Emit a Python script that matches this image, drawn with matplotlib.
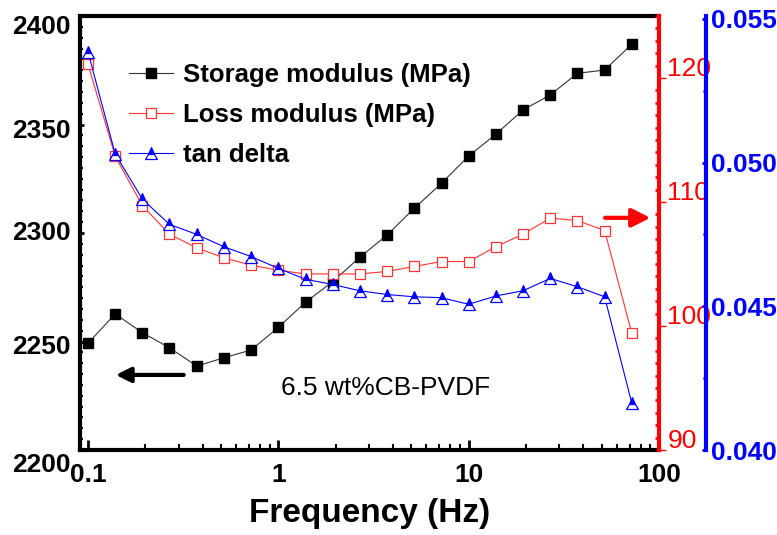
import numpy as np
import matplotlib.pyplot as plt
import matplotlib.transforms as mtransforms
from matplotlib.ticker import FixedLocator, MultipleLocator, LogLocator, NullFormatter, FormatStrFormatter

plt.rcParams['font.family'] = ['Liberation Sans', 'DejaVu Sans']

# frequency sweep (Hz)
freq = [0.1, 0.139, 0.193, 0.268, 0.373, 0.518, 0.72, 1.0, 1.39, 1.93, 2.68,
        3.73, 5.18, 7.2, 10.0, 13.9, 19.3, 26.8, 37.3, 51.8, 72.0]
# storage modulus (MPa), left axis
storage = [2249.2, 2262.7, 2254.1, 2247.1, 2238.7, 2242.5, 2246.1, 2256.5, 2268.1, 2277.6, 2288.8,
           2299.1, 2311.4, 2322.9, 2335.5, 2345.5, 2356.7, 2363.6, 2373.6, 2375.1, 2387.0]
# loss modulus (MPa), red axis
loss = [121.1, 113.7, 109.7, 107.4, 106.3, 105.5, 104.9, 104.5, 104.2, 104.2, 104.2,
        104.4, 104.8, 105.2, 105.2, 106.4, 107.4, 108.7, 108.5, 107.7, 99.4]
# tan delta, blue axis
tan_delta = [0.05385, 0.05030, 0.04873, 0.04785, 0.04750, 0.04707, 0.04673, 0.04632, 0.04594, 0.04576, 0.04554,
             0.04541, 0.04533, 0.04530, 0.04507, 0.04536, 0.04554, 0.04597, 0.04568, 0.04533, 0.04162]

fig = plt.figure(figsize=(7.77, 5.35), dpi=100)
ax = fig.add_axes([80 / 777, 85 / 535, 579 / 777, 434 / 535])


def shift(text, dy_px):
    # move a tick label up (+) or down (-) by some pixels
    off = mtransforms.ScaledTranslation(0, dy_px / 100, fig.dpi_scale_trans)
    text.set_transform(text.get_transform() + off)


l1, = ax.plot(freq, storage, color='#333333', lw=0.8, marker='s', ms=6.5,
              mfc='black', mec='black', label='Storage modulus (MPa)')
ax.set_xscale('log')
ax.set_xlim(0.0908, 100)
ax.set_ylim(2200, 2400)
ax.yaxis.set_major_locator(FixedLocator([2200, 2250, 2300, 2350, 2400]))
ax.yaxis.set_minor_locator(MultipleLocator(5))
ax.xaxis.set_major_locator(FixedLocator([0.1, 1, 10, 100]))
ax.xaxis.set_minor_locator(LogLocator(base=10, subs=np.arange(2, 10)))
ax.xaxis.set_minor_formatter(NullFormatter())
ax.set_xticklabels(['0.1', '1', '10', '100'])
for s in ['left', 'bottom', 'top']:
    ax.spines[s].set_linewidth(3)
ax.spines['right'].set_visible(False)
ax.tick_params(axis='x', which='major', direction='in', length=7, width=2, pad=9,
               labelsize=19)
ax.tick_params(axis='x', which='minor', direction='in', length=4, width=1.5)
ax.tick_params(axis='y', which='major', direction='in', length=3, width=2, pad=7,
               labelsize=19)
ax.tick_params(axis='y', which='minor', direction='in', length=2.5, width=1.5)
for t in ax.get_xticklabels() + ax.get_yticklabels():
    t.set_fontweight('bold')
for tick, dy in zip(ax.yaxis.get_major_ticks(), [-12, -3.5, 2, -3.5, -8]):
    shift(tick.label1, dy)
ax.set_xlabel('Frequency (Hz)', fontsize=24, fontweight='bold', labelpad=8)

# loss modulus axis
ax2 = ax.twinx()
l2, = ax2.plot(freq, loss, color='#ff3333', lw=0.8, marker='s', ms=6.5,
               mfc='white', mec='#ff3333', mew=0.9, label='Loss modulus (MPa)')
ax2.set_ylim(90, 125)
ax2.yaxis.set_major_locator(FixedLocator([90, 100, 110, 120]))
ax2.yaxis.set_minor_locator(MultipleLocator(1))
for s in ['left', 'bottom', 'top']:
    ax2.spines[s].set_visible(False)
ax2.spines['right'].set_color('red')
ax2.spines['right'].set_linewidth(3)
ax2.tick_params(axis='y', which='major', direction='out', length=5, width=1,
                color='red', labelcolor='red', labelsize=19, pad=1)
ax2.tick_params(axis='y', which='minor', direction='in', length=3, width=2, color='red')
for tick in ax2.yaxis.get_major_ticks():
    shift(tick.label2, 11)

# tan delta axis
ax3 = ax.twinx()
l3, = ax3.plot(freq, tan_delta, color='blue', lw=0.8, marker='^', ms=8,
               mfc='blue', mfcalt='white', fillstyle='top', mec='blue', mew=0.9,
               label='tan delta')
ax3.set_ylim(0.040, 0.0551)
ax3.spines['right'].set_position(('axes', 1.081))
for s in ['left', 'bottom', 'top']:
    ax3.spines[s].set_visible(False)
ax3.spines['right'].set_color('blue')
ax3.spines['right'].set_linewidth(3)
ax3.yaxis.set_major_locator(FixedLocator([0.040, 0.045, 0.050, 0.055]))
ax3.yaxis.set_minor_locator(FixedLocator([0.0425, 0.0475, 0.0525]))
ax3.yaxis.set_major_formatter(FormatStrFormatter('%.3f'))
ax3.tick_params(axis='y', which='major', direction='in', length=3, width=2,
                color='blue', labelcolor='blue', labelsize=19, pad=4)
ax3.tick_params(axis='y', which='minor', direction='in', length=2, width=2, color='blue')
for t in ax3.get_yticklabels():
    t.set_fontweight('bold')

ax3.legend([l1, l2, l3], [l1.get_label(), l2.get_label(), l3.get_label()],
           loc='upper left', bbox_to_anchor=(0.0846, 0.892), frameon=False,
           prop=dict(weight='bold', size=18.5), handlelength=1.7,
           handletextpad=0.4, labelspacing=0.63, borderpad=0, borderaxespad=0)

ax3.text(0.348, 0.143, '6.5 wt%CB-PVDF', transform=ax.transAxes, fontsize=19,
         va='center', ha='left')
ax3.annotate('', xy=(0.057, 0.173), xytext=(0.184, 0.173), xycoords=ax.transAxes,
             arrowprops=dict(arrowstyle='-|>', color='black', lw=3, mutation_scale=22))
ax3.annotate('', xy=(0.99, 0.535), xytext=(0.902, 0.535), xycoords=ax.transAxes,
             arrowprops=dict(arrowstyle='-|>', color='red', lw=3, mutation_scale=28))

fig.savefig('out.png', dpi=100)
